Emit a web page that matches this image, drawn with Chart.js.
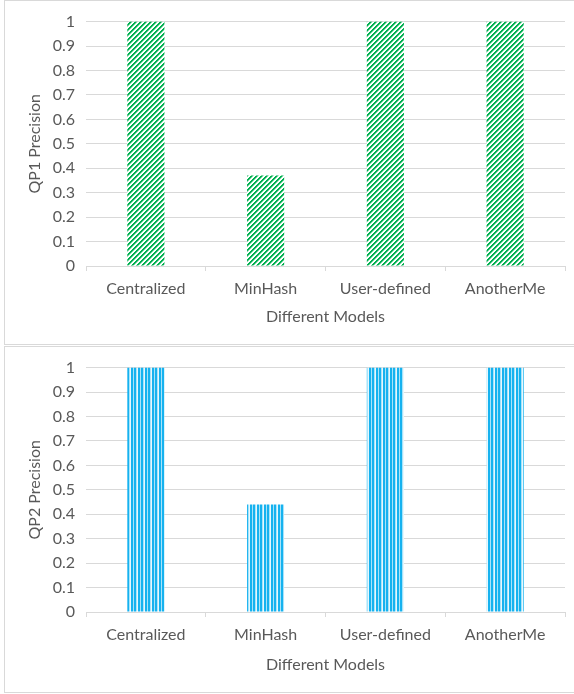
<!DOCTYPE html>
<html><head><meta charset="utf-8">
<script src="https://cdn.jsdelivr.net/npm/chart.js@4.4.1/dist/chart.umd.min.js"></script>
<style>
html,body{margin:0;padding:0;background:#fff;}
body{width:574px;height:694px;position:relative;overflow:hidden;}
.panel{position:absolute;left:4px;width:572px;border:1px solid #d9d9d9;box-sizing:border-box;background:#fff;}
#p1{top:0;height:345px;}
#p2{top:346px;height:347px;}
.panel canvas{position:absolute;left:0;top:0;}
</style></head>
<body>
<div class="panel" id="p1"><canvas id="c1" width="570" height="343"></canvas></div>
<div class="panel" id="p2"><canvas id="c2" width="570" height="345"></canvas></div>
<script>
// Models compared in both charts
const models = ['Centralized', 'MinHash', 'User-defined', 'AnotherMe'];
// Precision per model
const qp1Precision = [1, 0.37, 1, 1];
const qp2Precision = [1, 0.44, 1, 1];
// Value axis ticks
const yTicks = [0, 0.1, 0.2, 0.3, 0.4, 0.5, 0.6, 0.7, 0.8, 0.9, 1];

const FONT = 'Lato, "Open Sans", sans-serif';
const TEXT = '#595959';
const GRID = '#d9d9d9';

// Diagonal hatch (upward stripes)
function diagonalPattern() {
  const c = document.createElement('canvas');
  c.width = 5; c.height = 5;
  const g = c.getContext('2d');
  g.fillStyle = '#ffffff'; g.fillRect(0, 0, 5, 5);
  for (let x = 0; x < 5; x++) {
    for (let y = 0; y < 5; y++) {
      const k = (x + y) % 5;
      if (k === 0 || k === 1) { g.fillStyle = '#00b050'; g.fillRect(x, y, 1, 1); }
      else if (k === 2) { g.fillStyle = '#7fd6a6'; g.fillRect(x, y, 1, 1); }
    }
  }
  return g.createPattern(c, 'repeat');
}

// Vertical stripes
function verticalPattern() {
  const cols = ['#16b2ef', '#16b2ef', '#a8e3f9', '#16b2ef', '#16b2ef', '#a8e3f9', '#e6f7fd'];
  const c = document.createElement('canvas');
  c.width = cols.length; c.height = 4;
  const g = c.getContext('2d');
  cols.forEach((col, i) => { g.fillStyle = col; g.fillRect(i, 0, 1, 4); });
  return g.createPattern(c, 'repeat');
}

function makeChart(id, values, fill, yTitle, xHeight) {
  return new Chart(document.getElementById(id), {
    type: 'bar',
    data: {
      labels: models,
      datasets: [{ data: values, backgroundColor: fill, borderWidth: 0,
                   categoryPercentage: 1, barPercentage: 0.31 }]
    },
    options: {
      responsive: false,
      animation: false,
      devicePixelRatio: 1,
      layout: { padding: { top: id === 'c1' ? 18 : 19, right: 10, left: 0, bottom: 0 } },
      plugins: { legend: { display: false }, tooltip: { enabled: false } },
      scales: {
        x: {
          grid: { display: true, drawOnChartArea: false, drawTicks: true, tickLength: 5, color: GRID, offset: true },
          border: { display: true, color: GRID, width: 1 },
          ticks: { color: TEXT, font: { family: FONT, size: 16 }, padding: 8, maxRotation: 0 },
          title: { display: true, text: 'Different Models', color: TEXT,
                   font: { family: FONT, size: 16 }, padding: { top: 0, bottom: 18 } },
          afterFit: s => { s.height = xHeight; }
        },
        y: {
          min: 0, max: 1,
          afterBuildTicks: s => { s.ticks = yTicks.map(v => ({ value: v })); },
          grid: { color: GRID, lineWidth: 1, drawTicks: false },
          border: { display: false },
          ticks: { color: TEXT, font: { family: FONT, size: 16 }, padding: 11,
                   callback: v => String(v) },
          title: { display: true, text: yTitle, color: TEXT,
                   font: { family: FONT, size: 16 }, padding: { top: 20, bottom: 0 } },
          afterFit: s => { s.width = 81; }
        }
      }
    }
  });
}

makeChart('c1', qp1Precision, diagonalPattern(), 'QP1 Precision', 78);
makeChart('c2', qp2Precision, verticalPattern(), 'QP2 Precision', 80);
</script>
</body></html>
